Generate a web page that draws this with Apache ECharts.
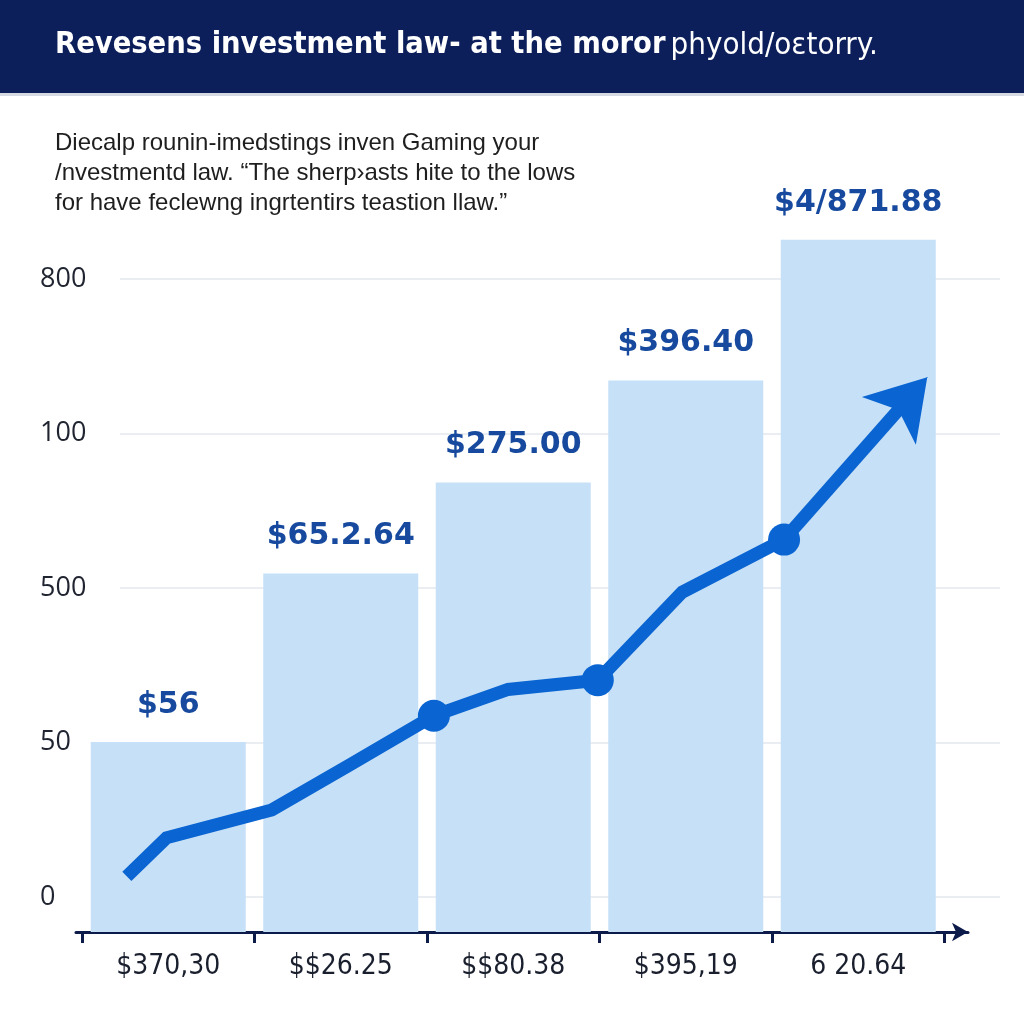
<!DOCTYPE html>
<html>
<head>
<meta charset="utf-8">
<script src="https://cdn.jsdelivr.net/npm/echarts@6/dist/echarts.min.js"></script>
<style>html,body{margin:0;padding:0;background:#fff}#c{width:1024px;height:1024px}</style>
</head>
<body>
<div id="c"></div>
<script>
// ---- data ----
const categories = ['$370,30', '$$26.25', '$$80.38', '$395,19', '6 20.64'];
const barValues = [1.23, 2.32, 2.91, 3.57, 4.48];
const barLabels = ['$56', '$65.2.64', '$275.00', '$396.40', '$4/871.88'];
const yTickLabels = ['0', '50', '500', '100', '800'];
const trendX = [-0.24, -0.01, 0.60, 1.05, 1.54, 1.97, 2.49, 2.98, 3.57, 4.40];
const trendY = [0.36, 0.61, 0.79, 1.08, 1.40, 1.57, 1.63, 2.20, 2.54, 3.59];
const trendDots = [4, 6, 8];
const titleBold = 'Revesens investment law- at the moror';
const titleRegular = 'phyold/oεtorry.';
const subtitleLines = [
  'Diecalp rounin-imedstings inven Gaming your',
  '/nvestmentd law. \u201CThe sherp\u203Aasts hite to the lows',
  'for have feclewng ingrtentirs teastion llaw.\u201D'
];

const navy = '#0d1b4a';
const lineBlue = '#0a64d2';
const condensed = 'DejaVu Sans Condensed, Liberation Sans Narrow, sans-serif';

const chart = echarts.init(document.getElementById('c'), null, {renderer: 'canvas'});

const n = trendX.length;
const lineData = [];
for (let i = 0; i < n - 1; i++) {
  const dot = trendDots.indexOf(i) >= 0;
  lineData.push({value: [trendX[i], trendY[i]], symbol: dot ? 'circle' : 'none', symbolSize: dot ? 32 : 0});
}
// arrow: shaft stops inside the arrow head so the stroke does not poke out of the tip
const prevPt = [trendX[n - 2], trendY[n - 2]];
const tipPt = [trendX[n - 1], trendY[n - 1]];
const headFrac = 0.16;
const basePt = [tipPt[0] - headFrac * (tipPt[0] - prevPt[0]), tipPt[1] - headFrac * (tipPt[1] - prevPt[1])];

chart.setOption({
  animation: false,
  backgroundColor: '#ffffff',
  graphic: [
    {type: 'rect', left: 0, top: 0, z: -10, shape: {width: 1024, height: 93}, style: {fill: '#0c1f5b'}},
    {type: 'rect', left: 0, top: 93, z: -10, shape: {width: 1024, height: 3}, style: {fill: '#d5dae2'}}
  ],
  title: [
    {
      text: '{b|' + titleBold + '} {r|' + titleRegular + '}',
      left: 55, top: 30, padding: 0,
      textStyle: {
        rich: {
          b: {fontFamily: condensed, fontWeight: 'bold', fontSize: 30.5, color: '#ffffff'},
          r: {fontFamily: condensed, fontWeight: 'normal', fontSize: 31, color: '#ffffff'}
        }
      }
    },
    {
      text: subtitleLines.join('\n'),
      left: 55, top: 128, padding: 0,
      textStyle: {fontFamily: 'Liberation Sans, Arial, sans-serif', fontWeight: 'normal', fontSize: 24, lineHeight: 30, color: '#1e1e1e'}
    }
  ],
  grid: [
    {left: 82, right: 79.5, top: 159.5, bottom: 92},
    {left: 120, right: 24, top: 279, bottom: 127},
    {left: 76, right: 56, top: 279, bottom: 92}
  ],
  xAxis: [
    {
      type: 'category', gridIndex: 0, data: categories,
      axisLine: {show: false},
      axisTick: {show: true, length: 11, lineStyle: {color: navy, width: 3}},
      axisLabel: {margin: 21, fontSize: 28, color: '#1a1f2e', fontFamily: condensed}
    },
    {type: 'value', gridIndex: 0, min: -0.5, max: 4.5, show: false},
    {type: 'value', gridIndex: 1, show: false},
    {
      type: 'value', gridIndex: 2, min: 0, max: 1,
      axisLine: {show: true, onZero: false, symbol: ['none', 'arrow'], symbolSize: [14, 16], lineStyle: {color: navy, width: 3}},
      axisTick: {show: false}, axisLabel: {show: false}, splitLine: {show: false}
    }
  ],
  yAxis: [
    {type: 'value', gridIndex: 0, min: 0, max: 5, show: false},
    {
      type: 'value', gridIndex: 1, min: 0, max: 4, interval: 1,
      axisLine: {show: false}, axisTick: {show: false},
      splitLine: {show: true, lineStyle: {color: '#eaedf2', width: 2}},
      axisLabel: {
        align: 'left', margin: 80, fontSize: 27, color: '#1f2430',
        fontFamily: 'Open Sans, Liberation Sans, sans-serif',
        formatter: function (v) { return yTickLabels[Math.round(v)]; }
      }
    },
    {type: 'value', gridIndex: 2, min: 0, max: 1, show: false}
  ],
  series: [
    {
      type: 'bar', xAxisIndex: 0, yAxisIndex: 0,
      data: barValues, barWidth: 155,
      itemStyle: {color: '#c6e1f7'},
      label: {
        show: true, position: 'top', distance: 22,
        formatter: function (p) { return barLabels[p.dataIndex]; },
        fontSize: 30, fontWeight: 'bold', color: '#174a9e',
        fontFamily: 'DejaVu Sans, Verdana, sans-serif'
      },
      silent: true
    },
    {
      type: 'line', xAxisIndex: 1, yAxisIndex: 0,
      data: lineData,
      lineStyle: {color: lineBlue, width: 13, join: 'miter'},
      itemStyle: {color: lineBlue},
      z: 5,
      silent: true,
      markLine: {
        silent: true,
        symbol: ['none', 'none'],
        label: {show: false},
        lineStyle: {color: lineBlue, width: 13, type: 'solid'},
        data: [
          [
            {coord: prevPt, symbol: 'none', lineStyle: {color: lineBlue, width: 13, type: 'solid'}},
            {coord: basePt, symbol: 'none'}
          ],
          [
            {coord: basePt, symbol: 'none', lineStyle: {color: lineBlue, width: 1, type: 'solid'}},
            {coord: tipPt, symbol: 'arrow', symbolSize: [54, 58]}
          ]
        ]
      }
    }
  ]
});
</script>
</body>
</html>
